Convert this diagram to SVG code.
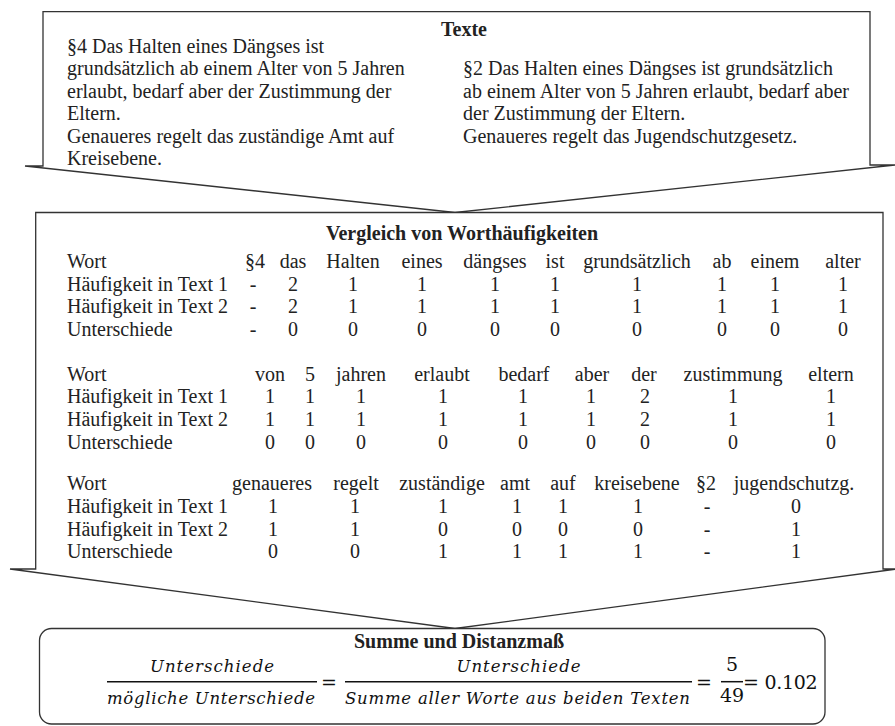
<svg xmlns="http://www.w3.org/2000/svg" width="895" height="726" viewBox="0 0 895 726">
<style>
.shape{fill:#fff;stroke:#333;stroke-width:1.3;stroke-linejoin:miter}
.t{font-family:"Liberation Serif","Times New Roman",serif;font-size:20px;fill:#222}
.b{font-weight:bold}
.c{text-anchor:middle}
.m{font-family:"DejaVu Serif",serif;font-style:italic;font-size:16.5px;fill:#111;text-anchor:middle}
.n{font-family:"DejaVu Serif",serif;font-size:19px;fill:#111;text-anchor:middle}
.bar{stroke:#111;stroke-width:1.5}
</style>
<rect width="895" height="726" fill="#fff"/>
<g id="connectors"></g>

<g id="node-texte">
<path class="shape" d="M43,166 L43,11.7 L870,11.7 L870,165 L895,165 L455,212.5 L25,166 Z"/>
<text class="t b c" x="464" y="36">Texte</text>
<text class="t" x="67" y="52.5">§4 Das Halten eines Dängses ist</text>
<text class="t" x="67" y="75">grundsätzlich ab einem Alter von 5 Jahren</text>
<text class="t" x="67" y="97.6">erlaubt, bedarf aber der Zustimmung der</text>
<text class="t" x="67" y="120.2">Eltern.</text>
<text class="t" x="67" y="142.8">Genaueres regelt das zuständige Amt auf</text>
<text class="t" x="67" y="165.4">Kreisebene.</text>
<text class="t" x="463" y="75">§2 Das Halten eines Dängses ist grundsätzlich</text>
<text class="t" x="463" y="97.6">ab einem Alter von 5 Jahren erlaubt, bedarf aber</text>
<text class="t" x="463" y="120.2">der Zustimmung der Eltern.</text>
<text class="t" x="463" y="142.8">Genaueres regelt das Jugendschutzgesetz.</text>
</g>

<g id="node-vergleich">
<path class="shape" d="M35.7,569 L35.7,212.5 L883,212.5 L883,569 L897,569 L455,628.5 L10,569 Z"/>
<text class="t b c" x="462" y="240">Vergleich von Worthäufigkeiten</text>

<text class="t" x="67" y="268">Wort</text>
<text class="t" x="67" y="290.6">Häufigkeit in Text 1</text>
<text class="t" x="67" y="313.2">Häufigkeit in Text 2</text>
<text class="t" x="67" y="335.8">Unterschiede</text>
<text class="t c" y="268"><tspan x="255">§4</tspan><tspan x="293">das</tspan><tspan x="353">Halten</tspan><tspan x="422">eines</tspan><tspan x="495">dängses</tspan><tspan x="555">ist</tspan><tspan x="637">grundsätzlich</tspan><tspan x="722">ab</tspan><tspan x="775">einem</tspan><tspan x="843">alter</tspan></text>
<text class="t c" y="290.6"><tspan x="253">-</tspan><tspan x="293">2</tspan><tspan x="353">1</tspan><tspan x="422">1</tspan><tspan x="495">1</tspan><tspan x="555">1</tspan><tspan x="637">1</tspan><tspan x="722">1</tspan><tspan x="775">1</tspan><tspan x="843">1</tspan></text>
<text class="t c" y="313.2"><tspan x="253">-</tspan><tspan x="293">2</tspan><tspan x="353">1</tspan><tspan x="422">1</tspan><tspan x="495">1</tspan><tspan x="555">1</tspan><tspan x="637">1</tspan><tspan x="722">1</tspan><tspan x="775">1</tspan><tspan x="843">1</tspan></text>
<text class="t c" y="335.8"><tspan x="253">-</tspan><tspan x="293">0</tspan><tspan x="353">0</tspan><tspan x="422">0</tspan><tspan x="495">0</tspan><tspan x="555">0</tspan><tspan x="637">0</tspan><tspan x="722">0</tspan><tspan x="775">0</tspan><tspan x="843">0</tspan></text>

<text class="t" x="67" y="380.8">Wort</text>
<text class="t" x="67" y="403.4">Häufigkeit in Text 1</text>
<text class="t" x="67" y="426">Häufigkeit in Text 2</text>
<text class="t" x="67" y="448.6">Unterschiede</text>
<text class="t c" y="380.8"><tspan x="270">von</tspan><tspan x="310">5</tspan><tspan x="361">jahren</tspan><tspan x="442">erlaubt</tspan><tspan x="524">bedarf</tspan><tspan x="592">aber</tspan><tspan x="644">der</tspan><tspan x="733">zustimmung</tspan><tspan x="831">eltern</tspan></text>
<text class="t c" y="403.4"><tspan x="270">1</tspan><tspan x="310">1</tspan><tspan x="361">1</tspan><tspan x="443">1</tspan><tspan x="523">1</tspan><tspan x="591">1</tspan><tspan x="645">2</tspan><tspan x="733">1</tspan><tspan x="831">1</tspan></text>
<text class="t c" y="426"><tspan x="270">1</tspan><tspan x="310">1</tspan><tspan x="361">1</tspan><tspan x="443">1</tspan><tspan x="523">1</tspan><tspan x="591">1</tspan><tspan x="645">2</tspan><tspan x="733">1</tspan><tspan x="831">1</tspan></text>
<text class="t c" y="448.6"><tspan x="270">0</tspan><tspan x="310">0</tspan><tspan x="361">0</tspan><tspan x="443">0</tspan><tspan x="523">0</tspan><tspan x="591">0</tspan><tspan x="645">0</tspan><tspan x="733">0</tspan><tspan x="831">0</tspan></text>

<text class="t" x="67" y="490.4">Wort</text>
<text class="t" x="67" y="513">Häufigkeit in Text 1</text>
<text class="t" x="67" y="535.6">Häufigkeit in Text 2</text>
<text class="t" x="67" y="558.2">Unterschiede</text>
<text class="t c" y="490.4"><tspan x="272">genaueres</tspan><tspan x="356">regelt</tspan><tspan x="442">zuständige</tspan><tspan x="515">amt</tspan><tspan x="563">auf</tspan><tspan x="637">kreisebene</tspan><tspan x="706">§2</tspan><tspan x="794">jugendschutzg.</tspan></text>
<text class="t c" y="513"><tspan x="273">1</tspan><tspan x="355">1</tspan><tspan x="443">1</tspan><tspan x="517">1</tspan><tspan x="563">1</tspan><tspan x="638">1</tspan><tspan x="707">-</tspan><tspan x="796">0</tspan></text>
<text class="t c" y="535.6"><tspan x="273">1</tspan><tspan x="355">1</tspan><tspan x="443">0</tspan><tspan x="517">0</tspan><tspan x="563">0</tspan><tspan x="638">0</tspan><tspan x="707">-</tspan><tspan x="796">1</tspan></text>
<text class="t c" y="558.2"><tspan x="273">0</tspan><tspan x="355">0</tspan><tspan x="443">1</tspan><tspan x="517">1</tspan><tspan x="563">1</tspan><tspan x="638">1</tspan><tspan x="707">-</tspan><tspan x="796">1</tspan></text>
</g>

<g id="node-summe">
<rect class="shape" x="39.5" y="628.5" width="785.5" height="95.5" rx="12" ry="12"/>
<text class="t b c" x="459" y="647.5">Summe und Distanzmaß</text>
<text class="m" x="212" y="672" textLength="124">Unterschiede</text>
<line class="bar" x1="107" y1="681.7" x2="317" y2="681.7"/>
<text class="m" x="211" y="703.5" textLength="208">mögliche Unterschiede</text>
<text class="n" x="329" y="689">=</text>
<text class="m" x="518.5" y="672" textLength="124">Unterschiede</text>
<line class="bar" x1="345" y1="681.7" x2="692" y2="681.7"/>
<text class="m" x="517.5" y="703.5" textLength="345">Summe aller Worte aus beiden Texten</text>
<text class="n" x="704" y="689">=</text>
<text class="n" x="732" y="671">5</text>
<line class="bar" x1="721" y1="681.7" x2="743" y2="681.7"/>
<text class="n" x="732" y="702">49</text>
<text class="n" x="751" y="689">=</text>
<text class="n" x="791" y="689" textLength="53">0.102</text>
</g>
</svg>
